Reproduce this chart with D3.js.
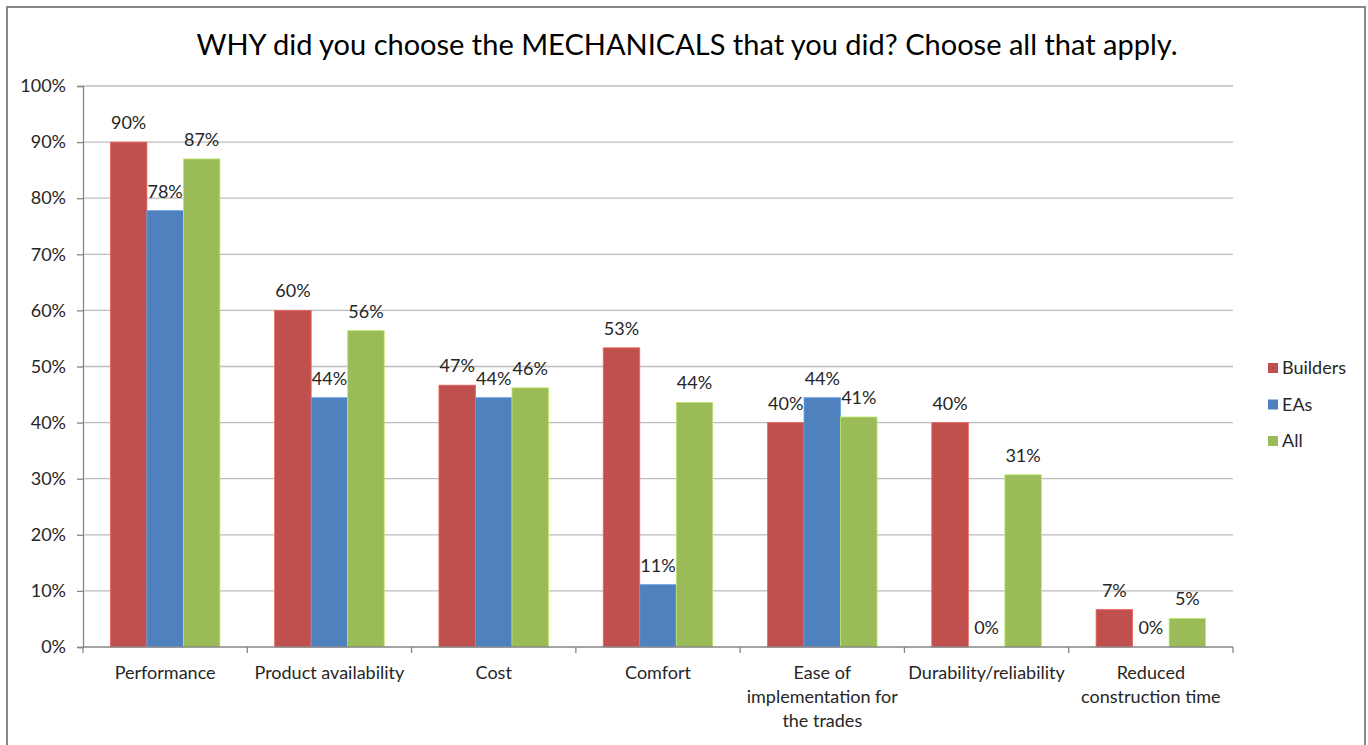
<!DOCTYPE html>
<html>
<head>
<meta charset="utf-8">
<script src="https://cdn.jsdelivr.net/npm/d3@7/dist/d3.min.js"></script>
<style>
    body { margin: 0; background: #fff; }
    svg { display: block; font-family: Lato, "Open Sans", sans-serif; }
</style>
</head>
<body>
<svg id="chart"></svg>
<script>
"use strict";

// Chart data
const categories = [
    "Performance",
    "Product availability",
    "Cost",
    "Comfort",
    "Ease of\nimplementation for\nthe trades",
    "Durability/reliability",
    "Reduced\nconstruction time"
];
const seriesNames = ["Builders", "EAs", "All"];
const builders = [0.90, 0.60, 0.4667, 0.5333, 0.40, 0.40, 0.0667];
const eas = [0.7778, 0.4444, 0.4444, 0.1111, 0.4444, 0, 0];
const all = [0.87, 0.564, 0.462, 0.436, 0.41, 0.307, 0.051];
const yTicks = [0, 0.1, 0.2, 0.3, 0.4, 0.5, 0.6, 0.7, 0.8, 0.9, 1.0];
const colors = ["#C0504D", "#4F81BD", "#9BBB59"];

// Graph dimensions
const width = 1368;
const height = 745;
const margin = { top: 86, right: 135, bottom: 98, left: 83 };
const fontSize = 18;

const svg = d3.select("#chart")
    .attr("width", width)
    .attr("height", height);

// outer frame
svg.append("path")
    .attr("d", `M7,${height} V7 H1365 V${height}`)
    .attr("fill", "none")
    .attr("stroke", "#878787")
    .attr("stroke-width", 2);

const plotW = width - margin.left - margin.right;
const plotH = height - margin.top - margin.bottom;

const x0 = d3.scaleBand()
    .domain(categories)
    .range([0, plotW]);

const x1 = d3.scaleBand()
    .domain(seriesNames)
    .range([0, x0.bandwidth()])
    .paddingOuter(0.75);

const yScale = d3.scaleLinear()
    .domain([0, 1])
    .range([plotH, 0]);

const g = svg.append("g")
    .attr("transform", `translate(${margin.left}, ${margin.top})`);

// gridlines
g.append("g")
    .selectAll("line")
    .data(yTicks.slice(1))
    .join("line")
        .attr("x1", 0)
        .attr("x2", plotW)
        .attr("y1", d => yScale(d))
        .attr("y2", d => yScale(d))
        .attr("stroke", "#bdbdbd")
        .attr("stroke-width", 1.3);

// y axis
const yAxis = g.append("g")
    .call(d3.axisLeft(yScale).tickValues(yTicks).tickFormat(d3.format(".0%")).tickSize(6).tickPadding(11));
yAxis.select(".domain").attr("stroke", "#868686").attr("stroke-width", 1.3);
yAxis.selectAll(".tick line").attr("stroke", "#868686").attr("stroke-width", 1.3);
yAxis.selectAll("text")
    .attr("font-size", fontSize)
    .attr("fill", "#262626")
    .attr("font-family", "Lato, sans-serif");

// bars
const series = seriesNames.map((name, i) => ({
    name: name,
    color: colors[i],
    values: [builders, eas, all][i]
}));

const groups = g.append("g")
    .selectAll("g")
    .data(categories)
    .join("g")
        .attr("transform", d => `translate(${x0(d)}, 0)`);

const cells = groups.selectAll("g")
    .data((c, ci) => series.map(s => ({ cat: c, name: s.name, color: s.color, value: s.values[ci] })))
    .join("g");

cells.append("rect")
    .attr("x", d => x1(d.name))
    .attr("width", x1.bandwidth())
    .attr("y", d => yScale(d.value))
    .attr("height", d => plotH - yScale(d.value))
    .attr("fill", d => d.color)
    .attr("stroke", d => d3.color(d.color).brighter(0.6))
    .attr("stroke-width", d => d.value > 0 ? 0.8 : 0);

cells.append("text")
    .attr("x", d => x1(d.name) + x1.bandwidth() / 2)
    .attr("y", d => yScale(d.value) - 13)
    .attr("text-anchor", "middle")
    .attr("font-size", fontSize)
    .attr("fill", "#262626")
    .text(d => Math.round(d.value * 100) + "%");

// x axis
const xAxis = g.append("g")
    .attr("transform", `translate(0, ${plotH})`);

xAxis.append("line")
    .attr("x1", 0)
    .attr("x2", plotW)
    .attr("stroke", "#868686")
    .attr("stroke-width", 1.3);

xAxis.selectAll(".tickmark")
    .data(d3.range(categories.length + 1))
    .join("line")
        .attr("class", "tickmark")
        .attr("x1", i => i * x0.step())
        .attr("x2", i => i * x0.step())
        .attr("y1", 0)
        .attr("y2", 6)
        .attr("stroke", "#868686")
        .attr("stroke-width", 1.3);

xAxis.selectAll(".xlabel")
    .data(categories)
    .join("text")
        .attr("class", "xlabel")
        .attr("text-anchor", "middle")
        .attr("font-size", fontSize)
        .attr("fill", "#262626")
        .each(function (d) {
            const cx = x0(d) + x0.bandwidth() / 2;
            d3.select(this).selectAll("tspan")
                .data(d.split("\n"))
                .join("tspan")
                    .attr("x", cx)
                    .attr("y", (t, i) => 32 + i * 24)
                    .text(t => t);
        });

// title
svg.append("text")
    .attr("x", 687)
    .attr("y", 55)
    .attr("text-anchor", "middle")
    .attr("font-size", 29)
    .attr("fill", "#000")
    .text("WHY did you choose the MECHANICALS that you did? Choose all that apply.");

// legend
const legend = svg.append("g")
    .attr("transform", "translate(1268, 368)");

const legendItems = legend.selectAll("g")
    .data(series)
    .join("g")
        .attr("transform", (d, i) => `translate(0, ${i * 36.5})`);

legendItems.append("rect")
    .attr("x", 0)
    .attr("y", -5)
    .attr("width", 10)
    .attr("height", 10)
    .attr("fill", d => d.color);

legendItems.append("text")
    .attr("x", 14)
    .attr("y", 6)
    .attr("font-size", fontSize)
    .attr("fill", "#262626")
    .text(d => d.name);
</script>
</body>
</html>
